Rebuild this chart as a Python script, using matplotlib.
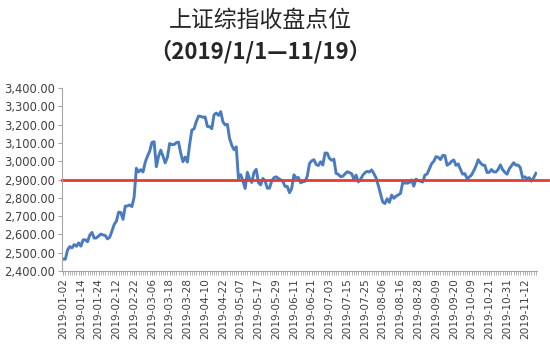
import datetime as dt
import matplotlib
matplotlib.use('Agg')
import matplotlib.pyplot as plt

# SSE composite daily closes, 2019-01-02 .. 2019-11-19 (trading days only)
holidays = ['2019-01-01', '2019-02-04', '2019-02-05', '2019-02-06', '2019-02-07',
            '2019-02-08', '2019-04-05', '2019-05-01', '2019-05-02', '2019-05-03',
            '2019-06-07', '2019-09-13', '2019-10-01', '2019-10-02', '2019-10-03',
            '2019-10-04', '2019-10-07']

closes = [
    # Jan
    2465.29, 2464.36, 2514.87, 2533.09, 2526.46, 2544.34, 2535.10, 2553.83,
    2535.77, 2570.34, 2570.42, 2559.64, 2596.01, 2610.51, 2579.70, 2581.00,
    2591.69, 2601.72, 2596.98, 2594.25, 2575.58, 2584.57,
    # Feb
    2618.23, 2653.90, 2671.89, 2721.07, 2719.70, 2682.39, 2754.36, 2755.65,
    2761.22, 2751.80, 2804.23, 2961.28, 2941.52, 2953.82, 2940.95,
    # Mar
    2994.01, 3027.58, 3054.25, 3102.10, 3106.42, 2969.86, 3026.99, 3060.31,
    3026.95, 2990.69, 3021.75, 3096.42, 3090.98, 3090.64, 3101.46, 3104.15,
    3043.03, 2997.10, 3022.72, 2994.94, 3090.76,
    # Apr
    3170.36, 3176.82, 3216.30, 3246.57, 3244.81, 3239.66, 3241.93, 3189.96,
    3188.63, 3177.79, 3253.60, 3263.12, 3250.20, 3270.80, 3215.04, 3198.59,
    3201.61, 3123.83, 3086.40, 3062.50, 3078.34,
    # May
    2906.46, 2926.39, 2893.76, 2850.95, 2939.21, 2903.71, 2883.61, 2938.68,
    2955.71, 2882.30, 2870.60, 2905.97, 2891.70, 2852.52, 2852.99, 2892.38,
    2909.91, 2914.70, 2905.81, 2898.70,
    # Jun
    2890.08, 2862.28, 2861.42, 2827.80, 2852.13, 2925.72, 2909.38, 2910.74,
    2881.97, 2887.62, 2890.16, 2917.80, 2987.12, 3001.98, 3008.15, 2982.07,
    2976.28, 2996.79, 2978.88,
    # Jul
    3044.90, 3043.94, 3015.26, 3005.25, 3011.06, 2933.36, 2928.23, 2915.30,
    2917.76, 2930.55, 2942.19, 2937.62, 2931.69, 2901.95, 2924.20, 2886.97,
    2899.94, 2923.28, 2937.36, 2944.54, 2941.01, 2952.34, 2932.51,
    # Aug
    2908.77, 2867.84, 2821.50, 2777.56, 2768.68, 2794.55, 2774.75, 2814.99,
    2797.26, 2808.91, 2815.80, 2823.82, 2883.10, 2880.33, 2880.00, 2883.44,
    2897.43, 2863.57, 2902.19, 2893.76, 2890.92, 2886.24,
    # Sep
    2924.11, 2930.15, 2957.41, 2985.86, 2999.60, 3024.74, 3021.20, 3008.81,
    3031.24, 3030.75, 2978.12, 2985.66, 2999.28, 3006.45, 2977.08, 2985.34,
    2955.43, 2929.09, 2932.17, 2905.19,
    # Oct
    2913.57, 2924.86, 2947.71, 2973.66, 3007.88, 2991.05, 2978.71, 2977.33,
    2938.14, 2939.62, 2954.38, 2941.62, 2940.92, 2954.93, 2980.05, 2954.18,
    2939.32, 2929.06,
    # Nov
    2958.20, 2975.49, 2991.56, 2978.60, 2978.71, 2964.18, 2909.97, 2914.82,
    2905.24, 2909.87, 2891.34, 2909.20, 2933.99,
]

ref_level = 2900

# build trading day labels
dates = []
d = dt.date(2019, 1, 1)
while d <= dt.date(2019, 11, 19):
    s = d.strftime('%Y-%m-%d')
    if d.weekday() < 5 and s not in holidays:
        dates.append(s)
    d += dt.timedelta(days=1)

x = list(range(len(closes)))

fig = plt.figure(figsize=(5.5, 3.53), dpi=100)
ax = fig.add_axes([62 / 550, 1 - 271 / 353, (537 - 62) / 550, (271 - 88) / 353])

ax.plot(x, closes, color='#4A7BC0', linewidth=2.1, solid_joinstyle='round')
ax.plot([0, 1.023], [ref_level, ref_level], color='#E63B35', linewidth=2.0,
        transform=ax.get_yaxis_transform(), clip_on=False)

ax.set_xlim(-0.5, len(closes) - 0.5)
ax.set_ylim(2400, 3400)
ax.set_yticks(range(2400, 3401, 100))
ax.set_yticklabels(['{:,.2f}'.format(v) for v in range(2400, 3401, 100)],
                   fontsize=8.3, color='#404040')

ax.set_xticks(x, minor=True)
ax.set_xticks(x[::8])
ax.set_xticklabels(dates[::8], rotation=90, fontsize=7.6, color='#404040')

for side in ['top', 'right']:
    ax.spines[side].set_visible(False)
for side in ['left', 'bottom']:
    ax.spines[side].set_color('#A6A6A6')
ax.tick_params(axis='x', which='both', length=3, color='#A6A6A6', pad=2)
ax.tick_params(axis='y', length=3, color='#A6A6A6', pad=2)

fig.text(260 / 550, 1 - 20 / 353, '上证综指收盘点位', ha='center', va='center',
         fontsize=16.5, fontweight='medium', color='#262626',
         family=['Noto Sans CJK SC', 'DejaVu Sans'])
fig.text(260 / 550, 1 - 52 / 353, '（2019/1/1—11/19）', ha='center', va='center',
         fontsize=16, fontweight='bold', color='#262626',
         family=['Noto Sans CJK SC', 'DejaVu Sans'])

fig.savefig('out.png', dpi=100)
